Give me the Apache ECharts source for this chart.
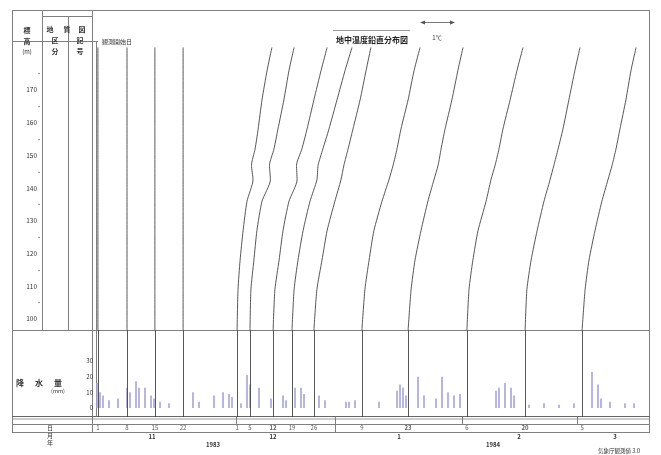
<!DOCTYPE html>
<html><head><meta charset="utf-8">
<script src="https://cdn.jsdelivr.net/npm/echarts@6/dist/echarts.min.js"></script>
<style>html,body{margin:0;padding:0;background:#fff}#c{width:661px;height:455px}</style>
</head><body><div id="c"></div>
<script>
// elevation levels (m) at which each profile is sampled (top -> bottom)
const elevLevels = [183, 176, 167, 158, 152, 147, 142.5, 136, 127, 118, 109, 96.6];
// horizontal position of each profile (in day units) at those levels
const profS1 = [0.3,0.3,0.3,0.3,0.3,0.3,0.3,0.3,0.3,0.3,0.3,0.3];
const profS2 = [10,10,10,10,10,10,10,10,10,10,10,10];
const profS3 = [19.3,19.3,19.3,19.3,19.3,19.3,19.3,19.3,19.3,19.3,19.3,19.3];
const profS4 = [28.7,28.7,28.7,28.7,28.7,28.7,28.7,28.7,28.7,28.7,28.7,28.7];
const profA = [58.3,56.7,55,53.7,52.7,51.5,52,50,48.7,47.7,47,46.7];
const profB = [65.7,64,62.3,60.3,59,57.5,57.8,55,53.3,52.3,51.3,51];
const profC = [76.7,74.7,72.3,70,68.3,66.5,66.7,64,62,60.7,59.3,58.7];
const profD = [85,82.7,80,77.3,75.3,73.7,73.3,71,68.7,67,65.7,65];
const profE = [91.3,89.7,87.7,85.3,83.7,82.3,81.3,79.3,76.7,75,73.3,72.3];
const profF = [107.7,105.7,103.7,101.3,100,98.7,97.3,95,92.3,90.7,89.3,88.3];
const profG = [122,120.3,118.3,116,114.7,113.7,112.3,110.3,108,106,104.7,103.7];
const profH = [142,140,137.7,135.3,134,132.7,131.3,129.7,127,125.3,124,123.3];
const profI = [161,159.3,157.3,155.3,153.7,152.3,151,149,146.7,144.7,143.3,142.7];
const profJ = [179.7,178,176.3,174.3,173,171.7,170.3,168.3,166,164,162.7,161.7];
const profiles = [profS1,profS2,profS3,profS4,profA,profB,profC,profD,profE,profF,profG,profH,profI,profJ];
// observation day labels (under each profile)
const dayLabels = ['1','8','15','22','1','5','12','19','26','9','23','6','20','5'];
const monthLabels = ['11','12','1','2','3'];
const yearLabels = ['1983','1984'];
// elevation tick labels
const elevTicks = [170,160,150,140,130,120,110,100];
// rainfall: [day, mm]
const rainDays = [0,1,2,4,7,10,11,13,14,16,18,19,21,24,32,34,39,42,44,45,48,50,51,54,58,62,63,66,68,69,74,76,83,84,86,94,100,101,102,103,107,109,113,115,117,119,121,133,134,136,138,139,144,149,154,159,165,167,168,171,176,179];
const rainMm  = [16,10,8,5,6,13,10,17,13,13,8,6,4,3,10,4,8,10,9,7,3,21,15,13,6,8,5,13,13,9,8,5,4,4,5,4,11,15,13,8,20,8,6,20,10,8,9,11,13,16,13,8,2,3,2,3,23,15,6,4,3,3];
const rainTicks = [0,10,20,30];

const chart = echarts.init(document.getElementById('c'), null, {renderer:'canvas'});
const F = '"Noto Sans CJK JP","Noto Sans",sans-serif';
const LC = '#808080';
function L(x1,y1,x2,y2,w,c){return {type:'line',silent:true,shape:{x1:x1,y1:y1,x2:x2,y2:y2},style:{stroke:c||LC,lineWidth:w||1}};}
function T(x,y,t,o){o=o||{};return {type:'text',silent:true,x:x,y:y,style:{text:t,font:(o.b?'bold ':'')+(o.s||7)+'px '+F,fill:o.c||'#333',align:o.a||'center',verticalAlign:'middle'}};}

const XMAX = 181;
const series = [];
profiles.forEach((p,i)=>{
  series.push({type:'line',xAxisIndex:0,yAxisIndex:0,symbol:'none',silent:true,smooth:0.2,
    data:p.map((v,k)=>[v,elevLevels[k]]),lineStyle:{color:'#444',width:0.9}});
});
series.push({type:'bar',xAxisIndex:1,yAxisIndex:1,barWidth:1.6,silent:true,
  data:rainDays.map((d,i)=>[d,rainMm[i]]),itemStyle:{color:'#a4a4d8'}});
series.push({type:'line',xAxisIndex:2,yAxisIndex:2,data:[],silent:true,
  markLine:{silent:true,symbol:'none',label:{show:false},lineStyle:{color:'#444',width:0.9,type:'solid'},
    data:profiles.map(p=>({xAxis:p[p.length-1]}))}});
series.push({type:'scatter',xAxisIndex:3,yAxisIndex:3,symbolSize:0,silent:true,
  data:profiles.map((p,i)=>({value:[p[p.length-1],0.5],label:{show:true,position:'inside',formatter:dayLabels[i],fontSize:6,color:'#333',fontFamily:F,fontWeight:(i===6||i===10||i===12)?'bold':'normal'}}))});
series.push({type:'scatter',xAxisIndex:4,yAxisIndex:4,data:[],silent:true});

const gridL = 97, gridR = 661-640;
const option = {
  animation:false,
  backgroundColor:'#fff',
  grid:[
    {left:gridL,right:gridR,top:24.58,bottom:103.29},
    {left:gridL,right:gridR,top:361,bottom:455-408},
    {left:gridL,right:gridR,top:330,bottom:455-417},
    {left:gridL,right:gridR,top:424,bottom:455-432},
    {left:40,width:1,top:57.3,bottom:136}
  ],
  xAxis:[
    {gridIndex:0,type:'value',min:0,max:XMAX,show:false},
    {gridIndex:1,type:'value',min:0,max:XMAX,show:false},
    {gridIndex:2,type:'value',min:0,max:XMAX,show:false},
    {gridIndex:3,type:'value',min:0,max:XMAX,show:false},
    {gridIndex:4,type:'value',min:0,max:1,show:false}
  ],
  yAxis:[
    {gridIndex:0,type:'value',min:90,max:190,show:false},
    {gridIndex:1,type:'value',min:0,max:30,interval:10,
      axisLine:{show:false},axisTick:{show:false},splitLine:{show:false},
      axisLabel:{fontSize:6,color:'#333',margin:4,fontFamily:F}},
    {gridIndex:2,type:'value',min:0,max:1,show:false},
    {gridIndex:3,type:'value',min:0,max:1,show:false},
    {gridIndex:4,type:'value',min:100,max:180,interval:10,
      axisLine:{show:false},axisTick:{show:false},splitLine:{show:false},
      minorTick:{show:true,splitNumber:2,length:2,lineStyle:{color:'#999'}},
      axisLabel:{fontSize:6.5,color:'#333',margin:3,fontFamily:F,
        formatter:v=>elevTicks.indexOf(v)>=0?String(v):''}}
  ],
  graphic:[
    // frame
    L(12,10.5,650,10.5),
    L(12.5,10,12.5,432),
    L(649.5,10,649.5,432),
    L(42,16.5,92,16.5),
    L(12,41.5,98,41.5),
    L(42.5,10,42.5,330),
    L(68.5,16,68.5,330),
    L(92.5,10,92.5,432),
    L(96.5,42,96.5,417),
    L(12,330.5,650,330.5),
    L(12,416.5,650,416.5,1.2,'#666'),
    L(12,419,650,419,0.8),
    L(12,424.5,650,424.5),
    L(12,432.5,650,432.5),
    L(335.5,417,335.5,432),
    L(462.5,417,462.5,424),
    L(577.5,417,577.5,424),
    L(236.5,417,236.5,424),
    // header texts
    T(27,30,'標',{b:1}), T(27,41,'高',{b:1}), T(27,52,'(m)',{s:6}),
    T(50,29,'地',{b:1}), T(67,29,'質',{b:1}), T(82,29,'図',{b:1}),
    T(55,40,'区',{b:1}), T(55,51,'分',{b:1}), T(80,40,'記',{b:1}), T(80,51,'号',{b:1}),
    T(117,42,'観測開始日',{s:6}),
    // title
    L(333,30.5,410,30.5,0.8),
    T(372,40,'地中温度鉛直分布図',{b:1,s:8,c:'#222'}),
    // scale arrow
    L(421,22.5,454,22.5,0.8,'#555'),
    {type:'polygon',silent:true,shape:{points:[[420,22.5],[425,20.5],[425,24.5]]},style:{fill:'#555'}},
    {type:'polygon',silent:true,shape:{points:[[455,22.5],[450,20.5],[450,24.5]]},style:{fill:'#555'}},
    T(437,38,'1℃',{s:6}),
    // rainfall label
    T(20,383,'降',{b:1,s:8}), T(39,383,'水',{b:1,s:8}), T(58,383,'量',{b:1,s:8}),
    T(58,391,'(mm)',{s:5.5}),
    // date row labels
    T(50,428,'日',{s:6}), T(50,436,'月',{s:6}), T(50,443,'年',{s:6}),
    T(152,437,monthLabels[0],{s:6,b:1}), T(273,437,monthLabels[1],{s:6,b:1}),
    T(399,437,monthLabels[2],{s:6,b:1}), T(519,437,monthLabels[3],{s:6,b:1}),
    T(615,437,monthLabels[4],{s:6,b:1}),
    T(213,445,yearLabels[0],{s:6,b:1}), T(493,445,yearLabels[1],{s:6,b:1}),
    T(619,451,'気象庁観測値 3.0',{s:5.5})
  ],
  series:series
};
chart.setOption(option);
</script></body></html>
